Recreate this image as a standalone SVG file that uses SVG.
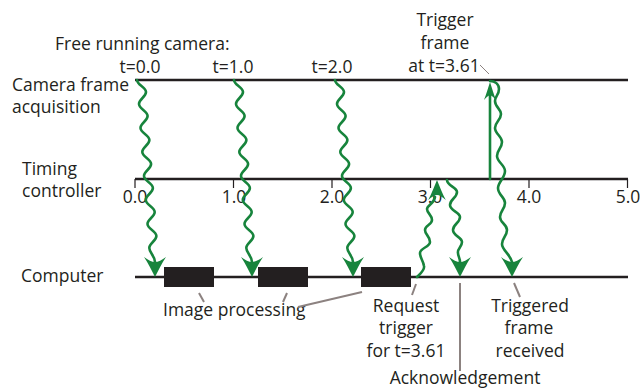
<svg xmlns="http://www.w3.org/2000/svg" xmlns:xlink="http://www.w3.org/1999/xlink" width="640" height="388" viewBox="0 0 640 388">
<style>
.ln{stroke:#231f20;stroke-width:2.6;fill:none}
.tk{stroke:#231f20;stroke-width:1.2;fill:none}
.wave{stroke:#17843c;stroke-width:2.6;fill:none;stroke-linecap:round}
.ah{fill:#17843c}
.ld{stroke:#8c8280;stroke-width:2;fill:none}
.ld1{stroke:#8c8280;stroke-width:1;fill:none}
.box{fill:#231f20}
text{font-family:'Open Sans','Liberation Sans',sans-serif;font-size:17.5px;fill:#231f20}
.m{text-anchor:middle}
</style>
<defs>
<path id="ah" d="M0,0 C-3,-6 -7,-14 -11,-20 C-7,-17 -3,-15 0,-15 C3,-15 7,-17 11,-20 C7,-14 3,-6 0,0 Z"/>
<path id="w0" d="M137,80 C137,85 146,87 146,92 C146,97 139,99 139,104 C139,109 147.6,111 147.6,116 C147.6,121 140.5,123 140.5,128 C140.5,133 149.4,135 149.4,140 C149.4,145 142.3,147 142.3,152 C142.3,157 151.1,159 151.1,164 C151.1,169 144,171 144,176 C144,181 152.9,183 152.9,188 C152.9,193 145.8,195 145.8,200 C145.8,205 154.7,207 154.7,212 C154.7,217 147.5,219 147.5,224 C147.5,229 156.4,231 156.4,236 C156.4,241 149.3,243 149.3,248 C149.3,253 155,256 155,262"/>
</defs>

<g id="camera-line">
<line class="ln" x1="135" y1="80" x2="628" y2="80"/>
<text x="12" y="91">Camera frame</text>
<text x="12" y="113">acquisition</text>
</g>

<g id="timing-line">
<line class="ln" x1="135" y1="179" x2="628" y2="179"/>
<path class="tk" d="M135,179V188M233.5,179V188M332,179V188M430.5,179V188M529,179V188M627.5,179V188"/>
<text x="22" y="175">Timing</text>
<text x="22" y="197">controller</text>
<text class="m" x="135" y="203">0.0</text>
<text class="m" x="234" y="203">1.0</text>
<text class="m" x="332" y="203">2.0</text>
<text class="m" x="430" y="203">3.0</text>
<text class="m" x="529" y="203">4.0</text>
<text class="m" x="628" y="203">5.0</text>
</g>

<g id="computer-line">
<line class="ln" x1="135" y1="277" x2="628" y2="277"/>
<text x="21" y="282">Computer</text>
</g>

<g id="box1"><rect class="box" x="164" y="267" width="50" height="20"/></g>
<g id="box2"><rect class="box" x="258" y="267" width="50" height="20"/></g>
<g id="box3"><rect class="box" x="361" y="267" width="50" height="20"/></g>

<g id="free-running-label">
<text x="55" y="50">Free running camera:</text>
<text class="m" x="140" y="73">t=0.0</text>
<text class="m" x="233" y="73">t=1.0</text>
<text class="m" x="332" y="73">t=2.0</text>
</g>

<g id="trigger-frame-label">
<text class="m" x="445" y="26">Trigger</text>
<text class="m" x="445" y="49">frame</text>
<text class="m" x="444" y="72">at t=3.61</text>
</g>

<g id="image-processing-label">
<text x="163" y="316">Image processing</text>
</g>

<g id="request-label">
<text class="m" x="406" y="312">Request</text>
<text class="m" x="406" y="334">trigger</text>
<text class="m" x="406" y="357">for t=3.61</text>
</g>

<g id="triggered-label">
<text class="m" x="530" y="312">Triggered</text>
<text class="m" x="529" y="334">frame</text>
<text class="m" x="530" y="357">received</text>
</g>

<g id="ack-label">
<text class="m" x="465" y="384">Acknowledgement</text>
</g>

<g id="connectors">
<use xlink:href="#w0" href="#w0" class="wave"/>
<use xlink:href="#ah" href="#ah" class="ah" transform="translate(155,277)"/>
<use xlink:href="#w0" href="#w0" class="wave" transform="translate(97,0)"/>
<use xlink:href="#ah" href="#ah" class="ah" transform="translate(252,277)"/>
<use xlink:href="#w0" href="#w0" class="wave" transform="translate(198,0)"/>
<use xlink:href="#ah" href="#ah" class="ah" transform="translate(353,277)"/>

<path class="wave" d="M417,277 C420,274 425,270 424,266 C423,260 420,258 420,253 C420,248 430,247 430,242 C430,236 425,235 425,230 C425,225 432,225 432,220 C432,215 427,213 427,209 C427,205 434,204 435,197"/>
<use xlink:href="#ah" href="#ah" class="ah" transform="translate(437,180) rotate(180) scale(0.8,1)"/>

<path class="wave" d="M447,180 C447,186 457,187 457,192 C457,198 450,199 450,205 C450,211 460,212 460,217 C460,223 453,224 453,230 C453,236 462,237 462,242 C462,247 457,249 458,253 C458,256 460,258 460,262"/>
<use xlink:href="#ah" href="#ah" class="ah" transform="translate(460,277)"/>

<line class="wave" x1="490" y1="179" x2="490" y2="96"/>
<use xlink:href="#ah" href="#ah" class="ah" transform="translate(490,82) rotate(180) scale(0.55,0.9)"/>

<path class="wave" d="M490,81 C495,81 499,84 499,89 C499,95 495,96 495,101 C495,107 501,109 501,114 C501,120 495,122 495,128 C495,134 502,136 502,142 C502,148 497,150 497,156 C497,162 505,165 505,171 C505,178 498,182 498,188 C498,195 505,197 505,203 C505,209 500,211 500,217 C500,223 507,224 507,230 C507,236 502,238 502,244 C502,250 510,254 512,262"/>
<use xlink:href="#ah" href="#ah" class="ah" transform="translate(512,277)"/>

<line class="ld1" x1="480" y1="65" x2="489" y2="74"/>
<line class="ld" x1="199" y1="293" x2="204" y2="302"/>
<line class="ld" x1="287" y1="293" x2="283" y2="302"/>
<line class="ld" x1="362" y1="292" x2="298" y2="307"/>
<line class="ld" x1="416" y1="284" x2="412" y2="295"/>
<line class="ld" x1="460" y1="283" x2="460" y2="371"/>
<line class="ld" x1="514" y1="283" x2="520" y2="297"/>
</g>
</svg>
